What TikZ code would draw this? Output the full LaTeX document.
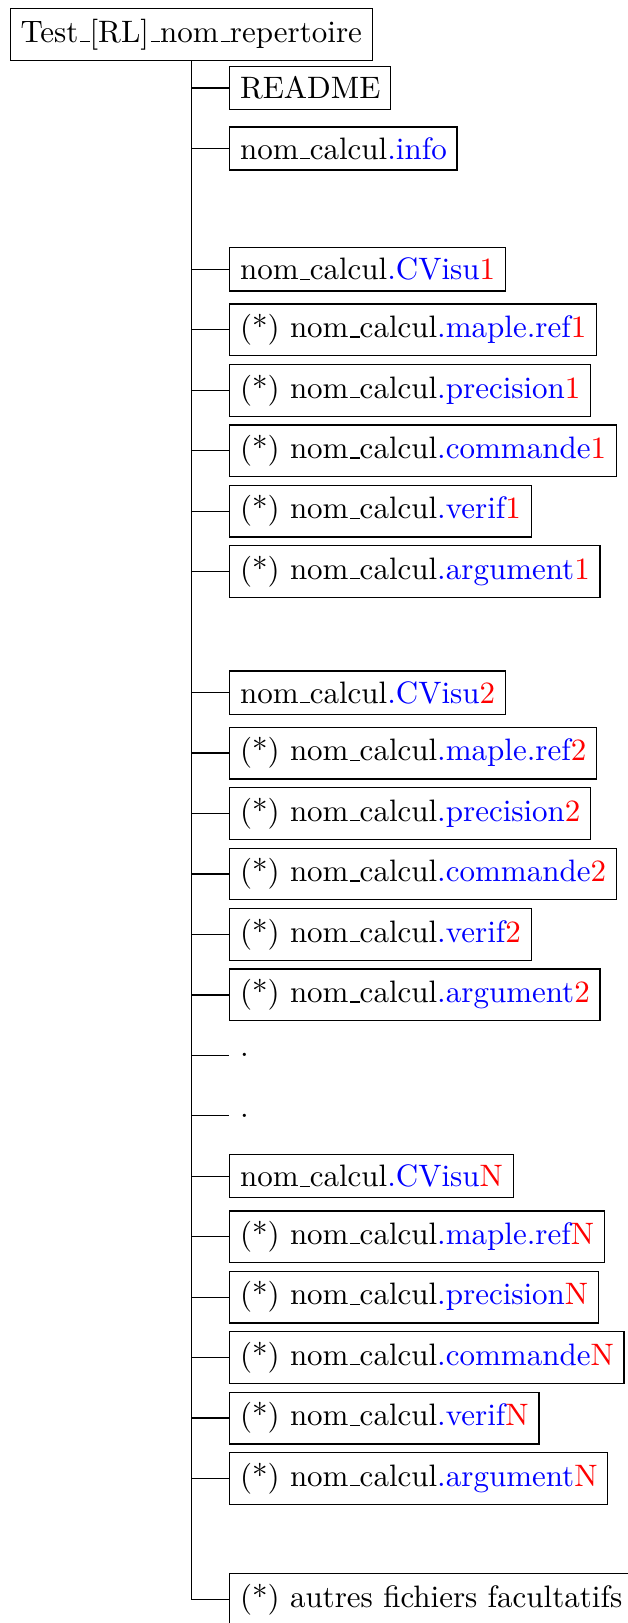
\documentclass[tikz,border=0pt]{standalone}

\newcommand\us{\leavevmode\kern.06em\vbox{\hrule width.3em}}
\newcommand\nomCalcul{nom\us calcul}
\newcommand\fileExt[1]{\textcolor{blue}{.#1}}
\newcommand\fileNum[1]{\textcolor{red}{#1}}

\def\rowStep{19.5pt}
\def\childShift{12.2pt}
\def\firstRow{17.2pt}

\tikzset{
    file/.style = {draw, anchor = west},
    filler/.style = {anchor = west},
}

\begin{document}
\begin{tikzpicture}
            \useasboundingbox (-61.7pt,11.2pt) rectangle (140.6pt,-512.3pt);
            \node [draw] (root) at (0,0) {Test\us[RL]\us nom\us repertoire};
            \node [file] (readme) at (\childShift,{-\firstRow}) {README};
            \node [file] (info) at (\childShift,{-\firstRow-\rowStep})
            {\nomCalcul\fileExt{info}};
            \draw
            (root.south) |- (readme.west)
            (root.south) |- (info.west)
            ;
            \foreach \n/\r in {1/4, 2/11, N/19} {
                \node [file] (cvisu\n) at (\childShift,{-\firstRow-(\r-1)*\rowStep})
                {\nomCalcul\fileExt{CVisu}\fileNum{\n}};
                \draw (root.south) |- (cvisu\n.west);
                \foreach \f/\e [count = \i] in {mapleref/maple.ref, precision/precision,
                    commande/commande, verif/verif, argument/argument} {
                    \node [file] (\f\n) at (\childShift,{-\firstRow-(\r+\i-1)*\rowStep})
                    {(*) \nomCalcul\fileExt{\e}\fileNum{\n}};
                    \draw (root.south) |- (\f\n.west);
                }
            }
            \node [filler] (dotsA) at (\childShift,{-\firstRow-16*\rowStep}) {.};
            \node [filler] (dotsB) at (\childShift,{-\firstRow-17*\rowStep}) {.};
            \node [file] (autres) at (\childShift,{-\firstRow-25*\rowStep})
            {(*) autres fichiers facultatifs};
            \draw
            (root.south) |- (dotsA.west)
            (root.south) |- (dotsB.west)
            (root.south) |- (autres.west)
            ;
\end{tikzpicture}
\end{document}
